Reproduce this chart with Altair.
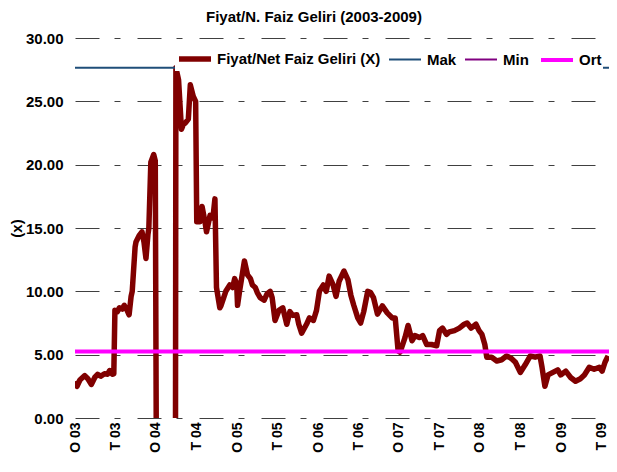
import altair as alt
import pandas as pd

MAIN = "Fiyat/Net Faiz Geliri (X)"

dates = [
    "2003-01-01", "2003-01-10", "2003-01-23", "2003-02-14", "2003-02-28", "2003-03-16",
    "2003-03-31", "2003-04-13", "2003-04-27", "2003-05-14", "2003-05-28", "2003-06-06",
    "2003-06-19", "2003-06-25", "2003-06-30", "2003-07-11", "2003-07-20", "2003-08-02",
    "2003-08-11", "2003-08-24", "2003-09-02", "2003-09-11", "2003-09-16", "2003-09-29",
    "2003-10-03", "2003-10-17", "2003-10-30", "2003-11-08", "2003-11-17", "2003-11-26",
    "2003-11-30", "2003-12-09", "2003-12-22", "2003-12-29", "2004-01-03", "2004-03-29",
    "2004-03-31", "2004-04-12", "2004-04-25", "2004-05-04", "2004-05-13", "2004-05-26",
    "2004-06-04", "2004-06-17", "2004-06-28", "2004-07-03", "2004-07-18", "2004-07-27",
    "2004-08-09", "2004-08-16", "2004-09-01", "2004-09-14", "2004-09-23", "2004-09-30",
    "2004-10-15", "2004-10-20", "2004-11-11", "2004-11-29", "2004-12-12", "2004-12-21",
    "2004-12-30", "2005-01-03", "2005-01-12", "2005-02-03", "2005-02-17", "2005-03-02",
    "2005-03-11", "2005-03-24", "2005-04-02", "2005-04-15", "2005-05-03", "2005-05-16",
    "2005-05-30", "2005-06-08", "2005-06-21", "2005-07-09", "2005-07-26", "2005-08-13",
    "2005-08-27", "2005-09-09", "2005-09-27", "2005-10-06", "2005-10-19", "2005-11-10",
    "2005-11-23", "2005-12-11", "2005-12-25", "2006-01-07", "2006-01-25", "2006-02-07",
    "2006-02-20", "2006-03-10", "2006-03-23", "2006-04-06", "2006-04-28", "2006-05-16",
    "2006-05-29", "2006-06-11", "2006-06-29", "2006-07-12", "2006-07-26", "2006-08-13",
    "2006-08-26", "2006-09-08", "2006-09-26", "2006-10-18", "2006-11-09", "2006-12-02",
    "2006-12-15", "2006-12-28", "2007-01-06", "2007-01-28", "2007-02-11", "2007-03-01",
    "2007-03-14", "2007-04-05", "2007-04-18", "2007-05-06", "2007-05-28", "2007-06-20",
    "2007-07-03", "2007-07-16", "2007-08-03", "2007-08-16", "2007-09-08", "2007-09-30",
    "2007-10-22", "2007-11-04", "2007-11-22", "2007-12-14", "2007-12-28", "2008-01-10",
    "2008-01-23", "2008-02-01", "2008-02-23", "2008-03-17", "2008-04-08", "2008-04-30",
    "2008-05-22", "2008-06-09", "2008-07-01", "2008-07-23", "2008-08-15", "2008-09-06",
    "2008-09-28", "2008-10-07", "2008-10-20", "2008-11-03", "2008-11-25", "2008-12-17",
    "2008-12-30", "2009-01-22", "2009-02-13", "2009-03-07", "2009-03-29", "2009-04-16",
    "2009-05-08", "2009-05-30", "2009-06-22", "2009-07-05", "2009-07-18", "2009-08-01",
]

values = [
    2.9, 2.5, 3.0, 3.35, 3.1, 2.65,
    3.2, 3.45, 3.3, 3.5, 3.45, 3.75,
    3.45, 3.5, 8.5, 8.4, 8.7, 8.6,
    8.9, 8.5, 8.15, 9.6, 10.0, 13.5,
    13.9, 14.4, 14.7, 13.9, 12.6, 14.5,
    15.0, 20.2, 20.8, 20.3, -4.0, -4.0,
    27.65, 26.7, 22.8, 23.2, 23.3, 23.6,
    26.3, 25.4, 25.0, 15.5, 15.5, 16.7,
    15.5, 14.7, 16.0, 15.8, 17.3, 10.3,
    8.7, 8.85, 10.0, 10.5, 10.3, 11.0,
    10.6, 8.9, 10.0, 12.4, 11.3, 11.0,
    10.5, 10.3, 9.9, 9.5, 9.3, 9.8,
    10.0, 9.5, 7.7, 8.5, 8.7, 7.4,
    8.4, 8.1, 8.15, 7.4, 6.7, 7.4,
    7.9, 7.7, 8.5, 10.0, 10.5, 10.0,
    11.2, 10.5, 9.6, 10.8, 11.6, 10.9,
    9.7, 8.9, 7.9, 7.5, 8.4, 10.0,
    9.9, 9.5, 8.2, 8.85, 8.3, 7.9,
    7.9, 5.3, 5.2, 6.35, 7.3, 6.1,
    6.5, 6.35, 6.5, 5.8, 5.8, 5.7,
    6.9, 7.1, 6.6, 6.8, 6.9, 7.1,
    7.4, 7.5, 7.1, 7.4, 6.9, 6.6,
    5.8, 4.8, 4.8, 4.5, 4.6, 4.9,
    4.7, 4.4, 3.6, 4.2, 4.9, 4.8,
    4.9, 4.0, 2.5, 3.4, 3.6, 3.8,
    3.4, 3.7, 3.2, 2.9, 3.1, 3.4,
    4.0, 3.85, 4.0, 3.7, 4.4, 4.9,
]

mak_value = 27.65
min_value = -4.0
ort_value = 5.25
start_date = "2003-01-01"
end_date = "2009-08-05"

series_order = [MAIN, "Mak", "Min", "Ort"]
series_colors = ["#800000", "#1F4E79", "#800080", "#FF00FF"]
series_widths = [5.5, 2, 2, 4]

tick_years = list(range(2003, 2010))

df_main = pd.DataFrame({"date": dates, "value": values, "series": MAIN})
df_ref = pd.DataFrame({
    "date": [start_date, end_date] * 3,
    "value": [mak_value, mak_value, min_value, min_value, ort_value, ort_value],
    "series": ["Mak", "Mak", "Min", "Min", "Ort", "Ort"],
})
df = pd.concat([df_main, df_ref], ignore_index=True)

tick_values = []
for yr in tick_years:
    tick_values.append(alt.DateTime(year=yr, month=1, date=1, utc=True))
    tick_values.append(alt.DateTime(year=yr, month=7, date=1, utc=True))

FONT = "Liberation Sans"

legend_def = alt.Legend(
    title=None,
    orient="none",
    legendX=100,
    legendY=1,
    direction="horizontal",
    columns=4,
    symbolType="stroke",
    symbolSize=1024,
    labelFont=FONT,
    labelFontSize=15,
    labelFontWeight="bold",
    labelColor="black",
    labelLimit=0,
    labelOffset=3,
    columnPadding=4,
    padding=1,
    fillColor="white",
)

x_enc = alt.X(
    "date:T",
    scale=alt.Scale(
        type="utc",
        domain=[alt.DateTime(year=2003, month=1, date=1, utc=True),
                alt.DateTime(year=2009, month=8, date=5, utc=True)],
    ),
    axis=alt.Axis(
        values=tick_values,
        labelExpr="(utcFormat(datum.value, '%m') == '01' ? 'O ' : 'T ') + utcFormat(datum.value, '%y')",
        labelAngle=270,
        labelPadding=4,
        labelFont=FONT,
        labelFontSize=14,
        labelFontWeight="bold",
        labelColor="black",
        domain=False,
        ticks=False,
        grid=False,
        title=None,
    ),
)

y_enc = alt.Y(
    "value:Q",
    scale=alt.Scale(domain=[0, 30], nice=False, zero=False),
    axis=alt.Axis(
        values=[0, 5, 10, 15, 20, 25, 30],
        format=".2f",
        title="(x)",
        titleFont=FONT,
        titleFontSize=15,
        titleFontWeight="bold",
        titleColor="black",
        titlePadding=1,
        labelFont=FONT,
        labelFontSize=15,
        labelFontWeight="bold",
        labelColor="black",
        labelPadding=12,
        domain=False,
        ticks=False,
        grid=True,
        gridColor="#404040",
        gridWidth=1,
        gridDash=[24, 15, 6, 17],
    ),
)

color_enc = alt.Color("series:N", scale=alt.Scale(domain=series_order, range=series_colors), legend=legend_def)
width_enc = alt.StrokeWidth("series:N", scale=alt.Scale(type="ordinal", domain=series_order, range=series_widths), legend=legend_def)

base = alt.Chart(df)

main_line = base.transform_filter(alt.datum.series == MAIN).mark_line(
    clip=True, strokeJoin="round"
).encode(x=x_enc, y=y_enc, color=color_enc, strokeWidth=width_enc)

ref_lines = base.transform_filter(alt.datum.series != MAIN).mark_line(
    clip=True
).encode(x=x_enc, y=y_enc, color=color_enc, strokeWidth=width_enc, detail="series:N")

chart = alt.layer(main_line, ref_lines).properties(
    width=534,
    height=380,
    title=alt.Title(
        "Fiyat/N. Faiz Geliri (2003-2009)",
        font=FONT,
        fontSize=15,
        fontWeight="bold",
        color="black",
        anchor="middle",
        frame="group",
        dx=-28,
        offset=6,
    ),
    autosize=alt.AutoSizeParams(type="none"),
    padding={"left": 67, "top": 30, "right": 0, "bottom": 35},
    background="white",
).configure_view(stroke=None)

chart.save("out.html", embed_options={"renderer": "svg", "actions": False})
